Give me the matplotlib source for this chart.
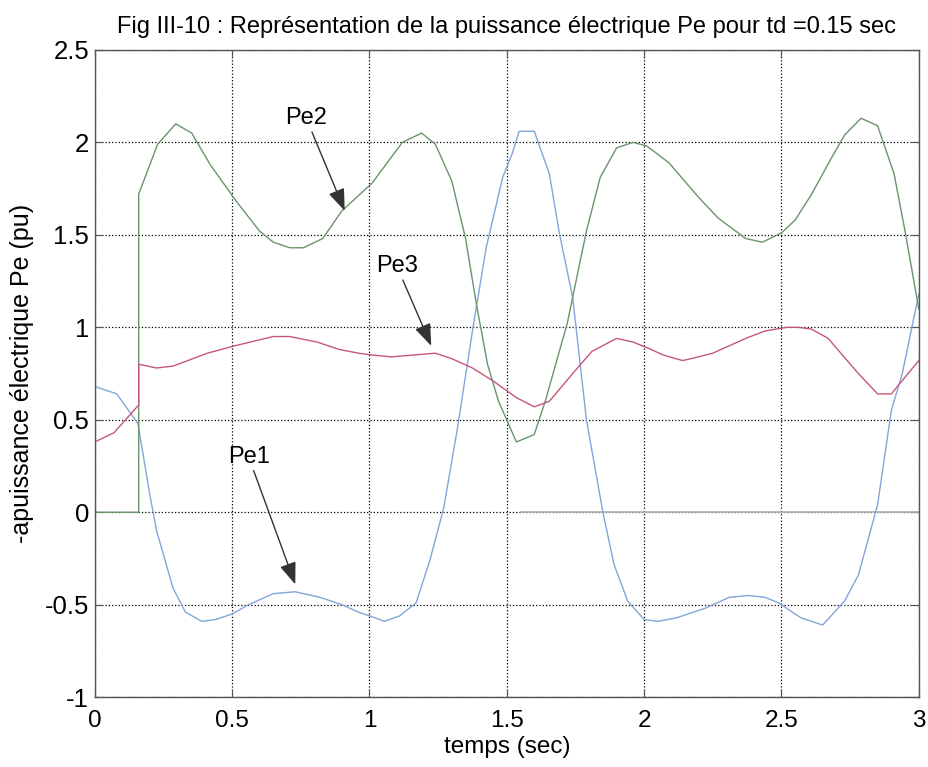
import matplotlib
matplotlib.use('Agg')
import matplotlib.pyplot as plt
import numpy as np

plt.rcParams['font.family'] = ['Liberation Sans', 'DejaVu Sans']

# Pe1 (bleu)
t_pe1 = [0, 0.08, 0.157, 0.2, 0.225, 0.285, 0.33, 0.39, 0.44, 0.50, 0.56, 0.65, 0.73,
         0.82, 0.90, 0.96, 1.0, 1.055, 1.11, 1.17, 1.22, 1.27, 1.32, 1.375, 1.425, 1.485,
         1.52, 1.545, 1.60, 1.655, 1.69, 1.74, 1.79, 1.85, 1.89, 1.94, 2.0, 2.05, 2.12,
         2.22, 2.31, 2.38, 2.44, 2.49, 2.57, 2.65, 2.73, 2.78, 2.85, 2.90, 2.94, 3.0]
pe1 = [0.68, 0.64, 0.48, 0.10, -0.10, -0.41, -0.54, -0.59, -0.58, -0.55, -0.50, -0.44, -0.43,
       -0.46, -0.50, -0.54, -0.56, -0.59, -0.56, -0.49, -0.26, 0.02, 0.45, 0.98, 1.43, 1.81,
       1.94, 2.06, 2.06, 1.83, 1.52, 1.16, 0.50, 0.0, -0.28, -0.48, -0.58, -0.59, -0.57,
       -0.52, -0.46, -0.45, -0.46, -0.49, -0.57, -0.61, -0.48, -0.34, 0.04, 0.55, 0.75, 1.18]

# Pe2 (vert)
t_pe2 = [0, 0.16, 0.16, 0.229, 0.295, 0.353, 0.42, 0.516, 0.60, 0.65, 0.71, 0.76, 0.83,
         0.90, 1.01, 1.12, 1.19, 1.24, 1.30, 1.35, 1.39, 1.43, 1.47, 1.535, 1.60, 1.64,
         1.72, 1.79, 1.84, 1.90, 1.96, 2.01, 2.09, 2.20, 2.27, 2.37, 2.43, 2.50, 2.55,
         2.61, 2.68, 2.73, 2.79, 2.85, 2.91, 2.95, 3.0]
pe2 = [0, 0, 1.72, 1.99, 2.10, 2.05, 1.88, 1.68, 1.52, 1.46, 1.43, 1.43, 1.48,
       1.63, 1.78, 2.0, 2.05, 1.99, 1.79, 1.48, 1.12, 0.80, 0.60, 0.38, 0.42, 0.60,
       1.02, 1.52, 1.81, 1.97, 2.0, 1.98, 1.89, 1.70, 1.59, 1.48, 1.46, 1.51, 1.58,
       1.72, 1.91, 2.04, 2.13, 2.09, 1.83, 1.52, 1.10]

# Pe3 (rouge)
t_pe3 = [0, 0.07, 0.16, 0.16, 0.225, 0.285, 0.41, 0.51, 0.65, 0.71, 0.81, 0.89, 0.96,
         1.01, 1.08, 1.24, 1.30, 1.375, 1.45, 1.535, 1.60, 1.655, 1.74, 1.81, 1.90, 1.96,
         2.01, 2.07, 2.14, 2.17, 2.25, 2.37, 2.44, 2.52, 2.56, 2.61, 2.67, 2.78, 2.85,
         2.90, 3.0]
pe3 = [0.38, 0.43, 0.58, 0.80, 0.78, 0.79, 0.86, 0.90, 0.95, 0.95, 0.92, 0.88, 0.86,
       0.85, 0.84, 0.86, 0.83, 0.78, 0.71, 0.62, 0.57, 0.60, 0.75, 0.87, 0.94, 0.92,
       0.89, 0.85, 0.82, 0.83, 0.86, 0.94, 0.98, 1.0, 1.0, 0.99, 0.94, 0.75, 0.64,
       0.64, 0.82]

# ligne grise a zero (fin de l'enregistrement)
t_zero = [1.55, 3.0]
zero = [0, 0]

fig = plt.figure(figsize=(9.29, 7.67), dpi=100)
ax = fig.add_axes([0.102, 0.091, 0.887, 0.844])

ax.plot(t_zero, zero, color='#b0b0b0', lw=1.2)
ax.plot(t_pe1, pe1, color='#82a6da', lw=1)
ax.plot(t_pe2, pe2, color='#6a946a', lw=1)
ax.plot(t_pe3, pe3, color='#c4587a', lw=1)

ax.set_xlim(0, 3)
ax.set_ylim(-1, 2.5)
ax.set_xticks(np.arange(0, 3.01, 0.5))
ax.set_yticks(np.arange(-1, 2.51, 0.5))
ax.set_xticklabels(['0', '0.5', '1', '1.5', '2', '2.5', '3'])
ax.set_yticklabels(['-1', '-0.5', '0', '0.5', '1', '1.5', '2', '2.5'])
ax.grid(True, color='black', linestyle=':', lw=0.9)
ax.tick_params(direction='in', top=True, right=True, length=6, color='#555555')
ax.tick_params(axis='x', labelsize=17.5, pad=9)
ax.tick_params(axis='y', labelsize=18.5, pad=4)
for s in ax.spines.values():
    s.set_color('#555555')
    s.set_linewidth(1)

ax.set_xlabel('temps (sec)', fontsize=17.5, labelpad=3)
ax.set_ylabel('-apuissance électrique Pe (pu)', fontsize=18, labelpad=8)
ax.set_title('Fig III-10 : Représentation de la puissance électrique Pe pour td =0.15 sec',
             fontsize=17, pad=12)

arrow = dict(arrowstyle='-|>,head_length=0.45,head_width=0.17', color='#333333', lw=1,
             mutation_scale=30, shrinkA=0, shrinkB=0)
ax.annotate('Pe2', xy=(0.91, 1.63), xytext=(0.77, 2.13), fontsize=17, ha='center', va='center',
            arrowprops=arrow)
ax.annotate('Pe3', xy=(1.225, 0.90), xytext=(1.10, 1.33), fontsize=17, ha='center', va='center',
            arrowprops=arrow)
ax.annotate('Pe1', xy=(0.73, -0.39), xytext=(0.56, 0.30), fontsize=17, ha='center', va='center',
            arrowprops=arrow)

fig.savefig('out.png', dpi=100)
